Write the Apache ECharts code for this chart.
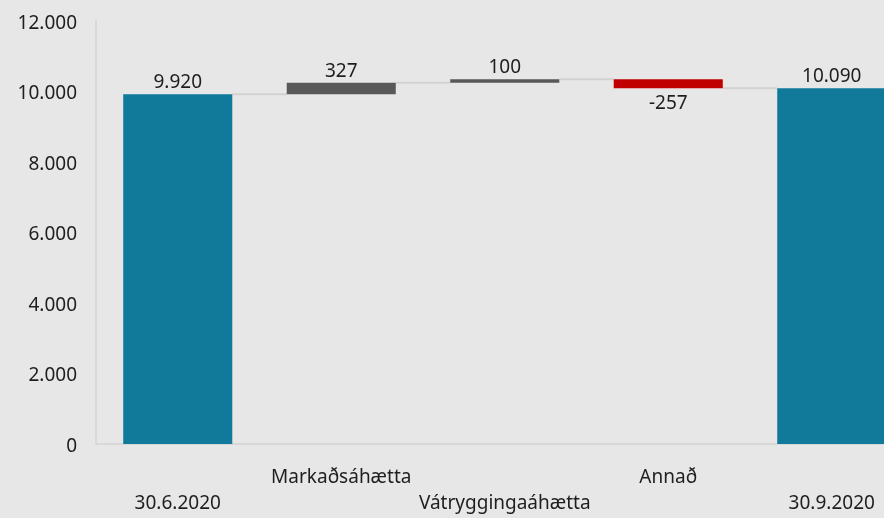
<!DOCTYPE html>
<html><head><meta charset="utf-8">
<script src="https://cdn.jsdelivr.net/npm/echarts@6/dist/echarts.min.js"></script>
<style>html,body{margin:0;padding:0;background:#e7e7e7;overflow:hidden}#c{width:914px;height:518px}</style>
</head><body><div id="c"></div>
<script>
const categories = ['30.6.2020','Markaðsáhætta','Vátryggingaáhætta','Annað','30.9.2020'];
const changes = [9920, 327, 100, -257, 10090];
const isTotal = [true, false, false, false, true];
const yTicks = [0, 2000, 4000, 6000, 8000, 10000, 12000];

const teal = '#117a9b', gray = '#595959', red = '#c00000';
const fmt = v => String(v).replace(/\B(?=(\d{3})+(?!\d))/g, '.');

// build waterfall
const base = [], heights = [], levels = [];
let run = 0;
changes.forEach((c, i) => {
  if (isTotal[i]) { base.push(0); heights.push(c); run = c; }
  else if (c >= 0) { base.push(run); heights.push(c); run += c; }
  else { base.push(run + c); heights.push(-c); run += c; }
  levels.push(run);
});
const colors = changes.map((c, i) => isTotal[i] ? teal : (c < 0 ? red : gray));

const chart = echarts.init(document.getElementById('c'));
const FONT = 'Noto Sans';
const TXT = '#1e1e1e';
chart.setOption({
  backgroundColor: '#e7e7e7',
  animation: false,
  textStyle: { fontFamily: FONT },
  grid: { left: 96, top: 21, right: 0.5, height: 423, containLabel: false },
  xAxis: {
    type: 'category', data: categories,
    axisLine: { lineStyle: { color: '#d4d4d4', width: 1.5 } },
    axisTick: { show: false },
    axisLabel: {
      interval: 0, margin: 21, fontSize: 19, color: TXT, fontFamily: FONT,
      lineHeight: 26, verticalAlign: 'top',
      formatter: (v, i) => i % 2 === 1 ? v + '\n ' : ' \n' + v
    }
  },
  yAxis: {
    type: 'value', min: 0, max: 12000, interval: 2000,
    axisLine: { show: true, lineStyle: { color: '#d4d4d4', width: 1.5 } },
    splitLine: { show: false },
    axisLabel: { fontSize: 19, color: TXT, margin: 19, fontFamily: FONT,
      formatter: v => '{a|' + fmt(v) + '}',
      rich: { a: { fontSize: 19, color: TXT, fontFamily: FONT, padding: [5, 0, 0, 0] } } }
  },
  series: [
    {
      type: 'custom', z: 1,
      renderItem: (params, api) => {
        const i = params.dataIndex;
        const bw = api.size([1, 0])[0] * 0.667;
        const p1 = api.coord([i, api.value(1)]);
        const p2 = api.coord([i + 1, api.value(1)]);
        return { type: 'line', shape: { x1: p1[0] + bw / 2, y1: p1[1], x2: p2[0] - bw / 2, y2: p2[1] },
          style: { stroke: '#d2d2d2', lineWidth: 2 } };
      },
      data: levels.slice(0, 4).map((l, i) => [i, l])
    },
    {
      type: 'bar', stack: 'w', barCategoryGap: '33.3%', z: 2,
      itemStyle: { color: 'transparent' }, data: base, silent: true
    },
    {
      type: 'bar', stack: 'w', z: 2,
      data: heights.map((h, i) => ({
        value: h, itemStyle: { color: colors[i] },
        label: { show: true, position: changes[i] < 0 ? 'bottom' : 'top',
          distance: changes[i] < 0 ? 6 : 2,
          fontSize: 19, color: TXT, fontFamily: FONT,
          formatter: () => fmt(changes[i]) }
      }))
    }
  ]
});
</script></body></html>
